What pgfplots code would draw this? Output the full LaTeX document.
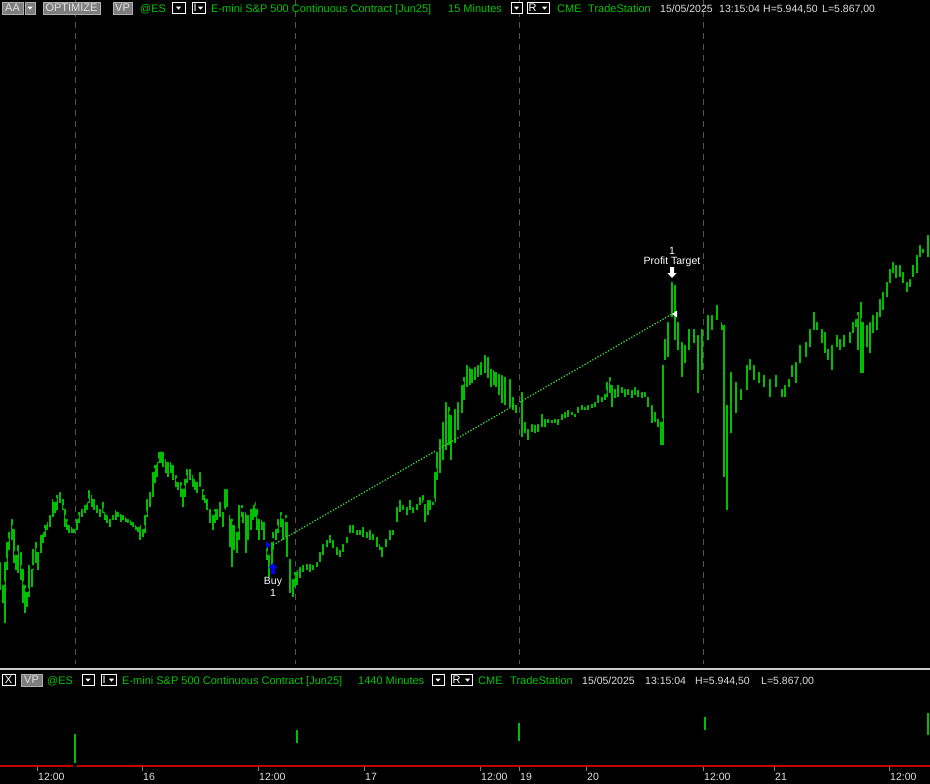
\documentclass[border=0pt]{standalone}
\usepackage{pgfplots}
\pgfplotsset{compat=1.18}
\usepackage{pgfplotstable}
\usepackage{fontspec}
\setmainfont{Liberation Sans}

\definecolor{barg}{RGB}{0,190,0}
\definecolor{txtg}{RGB}{0,200,0}
\definecolor{txtw}{RGB}{225,225,225}
\definecolor{gridg}{RGB}{85,85,85}
\definecolor{btn}{RGB}{125,125,125}
\definecolor{btnedge}{RGB}{175,175,175}
\definecolor{tradeg}{RGB}{60,210,60}
\definecolor{redline}{RGB}{190,0,0}

% 15 minute bars, x = column, top/bot = pixel row of high/low
\pgfplotstableread{
x top bot
0 560 590
3 583 603
5 560 623
7 540 570
9 530 550
12 517 540
14 527 563
16 553 570
18 543 573
21 550 580
23 567 603
25 583 613
27 590 607
29 563 597
32 567 587
33 547 570
36 540 563
38 550 570
41 533 553
43 530 543
45 523 537
47 520 530
50 513 527
53 497 517
55 500 513
57 493 510
60 490 503
63 497 510
65 507 527
67 517 530
69 523 533
72 525 533
74 527 533
77 517 530
79 510 523
82 507 517
85 503 513
87 500 510
89 488 503
92 493 507
94 497 510
97 503 513
100 507 517
103 500 513
105 510 520
107 513 523
110 517 527
113 513 520
116 508 520
118 510 517
121 512 522
123 513 520
126 515 522
128 517 523
131 518 525
133 520 527
136 523 530
138 525 532
140 523 540
143 527 537
145 513 533
147 497 517
150 490 507
153 470 497
155 463 483
157 460 477
159 450 463
161 447 463
163 450 467
166 457 473
168 460 477
171 460 473
173 463 480
176 473 487
178 480 490
181 480 497
183 487 507
185 477 497
187 467 483
190 467 480
193 473 487
195 477 490
197 480 493
200 470 487
203 487 500
205 493 503
207 497 510
210 507 523
213 513 530
215 507 523
217 507 520
220 500 517
223 510 527
225 487 510
227 487 507
230 513 547
232 517 567
234 523 550
237 530 553
239 503 540
242 503 517
243 510 523
246 510 553
248 513 540
251 507 530
253 503 520
255 500 517
257 507 530
259 517 540
262 518 530
264 520 540
267 540 560
269 553 577
272 540 573
273 530 550
276 527 540
278 517 533
281 510 527
283 517 540
286 513 537
287 520 557
290 557 593
293 577 597
295 570 587
297 568 585
300 565 578
303 563 572
307 562 570
310 562 572
313 563 570
317 560 567
320 550 562
323 542 555
327 538 547
330 533 543
333 538 548
337 545 555
340 548 557
343 542 552
347 535 543
350 523 533
353 523 533
357 528 535
360 528 535
363 525 537
367 530 538
370 528 540
373 532 540
377 535 547
380 542 550
382 545 557
386 537 547
390 528 540
393 528 535
397 505 522
400 498 512
403 503 510
407 505 515
410 498 510
413 505 513
417 502 510
420 495 505
423 493 503
425 502 522
428 498 515
430 498 510
433 500 505
435 470 502
437 450 480
440 437 473
443 420 460
446 400 450
449 405 445
451 413 460
455 407 443
458 400 430
462 383 413
464 375 400
467 363 387
470 365 385
472 367 383
475 365 380
478 363 377
481 360 375
485 353 373
488 355 378
491 367 387
494 368 385
496 370 387
499 372 395
502 373 403
505 375 405
510 377 407
513 395 410
516 403 413
522 390 437
525 420 433
528 427 440
532 422 432
535 423 433
538 422 432
542 412 427
545 417 427
548 417 423
552 418 423
555 417 423
558 417 425
562 412 420
565 410 418
568 408 417
572 410 415
575 412 417
578 405 413
582 403 410
585 405 410
588 403 410
592 402 408
595 400 407
598 393 403
602 395 402
605 392 400
607 380 397
610 375 393
612 383 407
615 387 398
618 383 397
622 385 393
625 387 397
628 387 395
632 388 398
635 385 395
638 388 397
642 390 398
645 390 397
648 395 407
652 403 423
655 410 422
658 417 427
661 420 445
663 363 445
665 337 360
668 320 357
672 280 317
675 283 340
678 320 350
682 340 377
685 343 363
689 327 350
694 327 343
698 333 393
702 327 370
708 313 340
712 313 330
717 303 320
722 320 330
724 323 477
727 403 510
731 370 433
736 380 413
741 387 400
747 363 390
750 357 370
754 363 380
759 370 383
764 373 387
770 377 397
776 373 387
782 387 397
785 383 397
789 377 387
792 363 377
796 360 383
800 343 363
806 340 357
810 327 347
814 310 330
817 320 330
822 327 343
825 330 353
828 347 360
832 343 370
837 333 347
840 337 350
844 333 347
850 330 343
853 320 333
856 317 327
858 310 350
861 300 373
863 320 373
867 323 347
870 320 353
873 313 333
877 310 330
880 297 317
883 290 310
887 280 297
890 267 283
893 260 273
896 263 278
900 263 277
903 270 283
907 280 292
910 277 287
913 263 277
917 253 273
920 243 257
923 247 253
928 233 257
}\mainbars

% 1440 minute bars, heights above the bottom line of the lower panel
\pgfplotstableread{
x lo hi
75 1 32
297 21 36
519 23 43
705 34 49
928 29 53
}\daybars

\pgfdeclareplotmark{uparr}{%
  \pgfpathmoveto{\pgfqpoint{0pt}{6pt}}%
  \pgfpathlineto{\pgfqpoint{4.5pt}{1pt}}%
  \pgfpathlineto{\pgfqpoint{2pt}{1pt}}%
  \pgfpathlineto{\pgfqpoint{2pt}{-5pt}}%
  \pgfpathlineto{\pgfqpoint{-2pt}{-5pt}}%
  \pgfpathlineto{\pgfqpoint{-2pt}{1pt}}%
  \pgfpathlineto{\pgfqpoint{-4.5pt}{1pt}}%
  \pgfpathclose\pgfusepathqfill}
\pgfdeclareplotmark{dnarr}{%
  \pgfpathmoveto{\pgfqpoint{0pt}{-6pt}}%
  \pgfpathlineto{\pgfqpoint{4.5pt}{-1pt}}%
  \pgfpathlineto{\pgfqpoint{2pt}{-1pt}}%
  \pgfpathlineto{\pgfqpoint{2pt}{5pt}}%
  \pgfpathlineto{\pgfqpoint{-2pt}{5pt}}%
  \pgfpathlineto{\pgfqpoint{-2pt}{-1pt}}%
  \pgfpathlineto{\pgfqpoint{-4.5pt}{-1pt}}%
  \pgfpathclose\pgfusepathqfill}
\pgfdeclareplotmark{rtri}{%
  \pgfpathmoveto{\pgfqpoint{3pt}{0pt}}%
  \pgfpathlineto{\pgfqpoint{-2pt}{3.5pt}}%
  \pgfpathlineto{\pgfqpoint{-2pt}{-3.5pt}}%
  \pgfpathclose\pgfusepathqfill}
\pgfdeclareplotmark{ltri}{%
  \pgfpathmoveto{\pgfqpoint{-3pt}{0pt}}%
  \pgfpathlineto{\pgfqpoint{2pt}{3.5pt}}%
  \pgfpathlineto{\pgfqpoint{2pt}{-3.5pt}}%
  \pgfpathclose\pgfusepathqfill}

\newcommand\hfont{\fontsize{11}{13}\selectfont}
\newcommand\nfont{\fontsize{10.5}{12}\selectfont}
% text at (x, baseline row)
\newcommand\hdr[4]{\node[anchor=base west,inner sep=0pt,text=#1,font=\hfont] at (#2,-#3) {#4};}
\newcommand\hnum[3]{\node[anchor=base west,inner sep=0pt,text=txtw,font=\nfont] at (#1,-#2) {#3};}
% dropdown box from x1 to x2 centred on row
\newcommand\ddbox[3]{%
  \draw[white,line width=0.7pt,fill=black] (#1,{-#3+5.5}) rectangle (#2,{-#3-5.5});
  \fill[white] ({(#1+#2)/2-2.5},{-#3+1.3}) -- ({(#1+#2)/2+2.5},{-#3+1.3}) -- ({(#1+#2)/2},{-#3-1.7}) -- cycle;}
% letter box with a small triangle
\newcommand\letbox[4]{%
  \draw[white,line width=0.7pt,fill=black] (#1,{-#3+5.5}) rectangle (#2,{-#3-5.5});
  \node[anchor=west,inner sep=0pt,text=white,font=\hfont] at ({#1+1.5},{-#3}) {#4};
  \fill[white] ({#2-7},{-#3+1.3}) -- ({#2-2},{-#3+1.3}) -- ({#2-4.5},{-#3-1.7}) -- cycle;}
% grey button
\newcommand\btnbox[4]{%
  \draw[btnedge,line width=0.7pt,fill=btn] (#1,{-#3+6}) rectangle (#2,{-#3-6});
  \node[inner sep=0pt,text=txtw,font=\hfont] at ({(#1+#2)/2},{-#3}) {#4};}

\begin{document}
\begin{tikzpicture}[x=1pt,y=1pt]
\fill[black] (0,0) rectangle (930,-784);
\useasboundingbox (0,0) rectangle (930,-784);

% ---------- main panel (15 Minutes) ----------
\begin{axis}[
    at={(0pt,0pt)}, anchor=north west,
    scale only axis, width=930pt, height=664pt,
    xmin=0, xmax=930, ymin=0, ymax=664, y dir=reverse,
    axis line style={draw=none},
    xtick={75,295,519,703}, xticklabels={}, ytick=\empty,
    major tick length=0pt,
    xmajorgrids, grid style={gridg, line width=1pt, dash pattern=on 6pt off 5pt},
]
\addplot[only marks, mark=none,
    error bars/.cd, y dir=plus, y explicit,
    error bar style={draw=barg, line width=1.9pt}, error mark=none]
    table[x=x, y=top, y error expr=\thisrow{bot}-\thisrow{top}] {\mainbars};
% trade line from entry to exit
\addplot[tradeg, line width=1.3pt, dash pattern=on 1.3pt off 1.7pt] coordinates {(273,545) (672,314)};
\addplot[only marks, mark=rtri, blue] coordinates {(268,545)};
\addplot[only marks, mark=ltri, white] coordinates {(675,314)};
\addplot[only marks, mark=uparr, blue] coordinates {(273,569)};
\addplot[only marks, mark=dnarr, white] coordinates {(672,272)};
\node[text=white, font=\nfont, inner sep=0pt] at (axis cs:273,582) {Buy};
\node[text=white, font=\nfont, inner sep=0pt] at (axis cs:273,593) {1};
\node[text=white, font=\nfont, inner sep=0pt] at (axis cs:672,251) {1};
\node[text=white, font=\nfont, inner sep=0pt] at (axis cs:672,262) {Profit Target};
\end{axis}

% ---------- lower panel (1440 Minutes) ----------
\begin{axis}[
    at={(0pt,-672pt)}, anchor=north west,
    scale only axis, width=930pt, height=94pt,
    xmin=0, xmax=930, ymin=0, ymax=94,
    axis x line*=bottom, axis y line=none,
    x axis line style={draw=redline, line width=1.6pt, -},
    xtick={37,142,258,364,480,519,586,703,774,889},
    xticklabels={12:00,16,12:00,17,12:00,19,20,12:00,21,12:00},
    ytick=\empty,
    tick style={draw=gray, line width=0.8pt},
    major tick length=5pt, tick align=outside,
    xticklabel style={anchor=north west, inner sep=0pt, xshift=1pt, yshift=-2pt,
        text=txtw, font=\nfont},
]
\addplot[only marks, mark=none,
    error bars/.cd, y dir=plus, y explicit,
    error bar style={draw=barg, line width=1.3pt}, error mark=none]
    table[x=x, y=lo, y error expr=\thisrow{hi}-\thisrow{lo}] {\daybars};
\end{axis}

% panel separator
\draw[white!80!black, line width=2pt] (0,-669) -- (930,-669);

% ---------- header of main panel ----------
\btnbox{2}{23}{8}{AA}
\draw[btnedge,line width=0.7pt,fill=btn] (25,-2) rectangle (35,-14);
\fill[white] (27.5,-6.7) -- (32.5,-6.7) -- (30,-9.7) -- cycle;
\btnbox{43}{100}{8}{OPTIMIZE}
\btnbox{113}{132}{8}{VP}
\hdr{txtg}{140}{12.5}{@ES}
\ddbox{172}{185}{8}
\letbox{192}{205}{8}{I}
\hdr{txtg}{211}{12.5}{E-mini S\&P 500 Continuous Contract [Jun25]}
\hdr{txtg}{448}{12.5}{15 Minutes}
\ddbox{511}{522}{8}
\letbox{527}{549}{8}{R}
\hdr{txtg}{557}{12.5}{CME}
\hdr{txtg}{588}{12.5}{TradeStation}
\hnum{660}{12.5}{15/05/2025}
\hnum{719}{12.5}{13:15:04}
\hnum{763}{12.5}{H=5.944,50}
\hnum{822}{12.5}{L=5.867,00}

% ---------- header of lower panel ----------
\draw[white, line width=0.7pt] (2,-674.5) rectangle (15,-685.5);
\node[text=white, font=\hfont, inner sep=0pt] at (8.5,-680) {X};
\btnbox{21}{42}{680}{VP}
\hdr{txtg}{47}{684.5}{@ES}
\ddbox{82}{94}{680}
\letbox{101}{116}{680}{I}
\hdr{txtg}{122}{684.5}{E-mini S\&P 500 Continuous Contract [Jun25]}
\hdr{txtg}{358}{684.5}{1440 Minutes}
\ddbox{432}{444}{680}
\letbox{451}{472}{680}{R}
\hdr{txtg}{478}{684.5}{CME}
\hdr{txtg}{510}{684.5}{TradeStation}
\hnum{582}{684.5}{15/05/2025}
\hnum{645}{684.5}{13:15:04}
\hnum{695}{684.5}{H=5.944,50}
\hnum{761}{684.5}{L=5.867,00}
\end{tikzpicture}
\end{document}
